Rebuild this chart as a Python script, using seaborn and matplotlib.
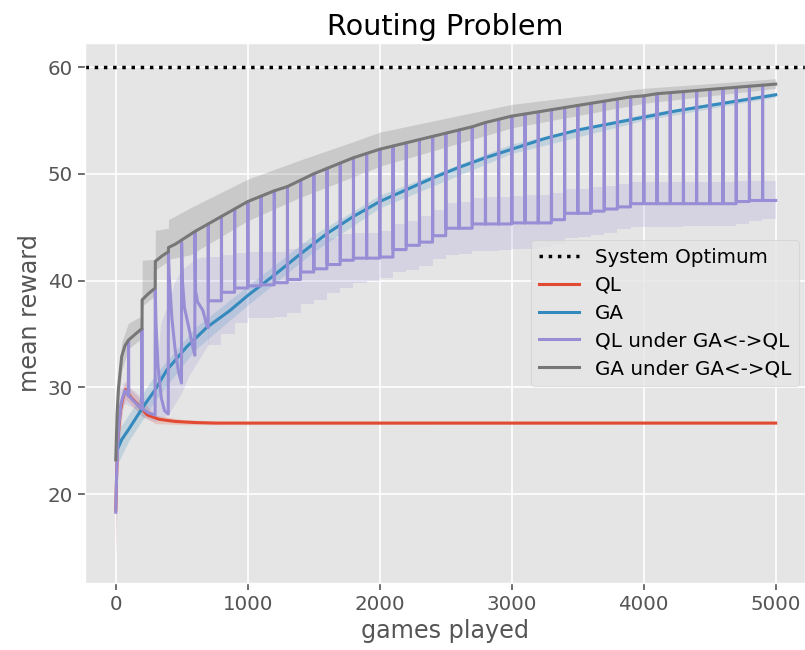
import matplotlib
matplotlib.use("Agg")
import matplotlib.pyplot as plt
import pandas as pd
import seaborn as sns

# ggplot look, as in the original figure
plt.style.use("ggplot")

# colors (ggplot cycle)
QL_COLOR = "#E24A33"
GA_COLOR = "#348ABD"
QLGA_COLOR = "#988ED5"
GAGA_COLOR = "#777777"

font_size = 14.3

# ---------------- data ----------------
OPTIMUM = 60

# QL
QL_X = [0, 5, 10, 20, 35, 50, 75, 90, 112, 150, 180, 240, 330, 450, 600, 750, 1000, 5000]
QL_Y = [18.5, 21.0, 23.5, 25.7, 27.8, 28.8, 29.8, 29.5, 29.1, 28.6, 28.2, 27.4, 27.0, 26.8, 26.7, 26.65, 26.65, 26.65]
QL_BAND_X = [0, 10, 20, 50, 75, 112, 200, 300, 500, 800, 5000]
QL_LO = [14.0, 20.0, 24.0, 27.8, 28.9, 28.4, 27.3, 26.6, 26.5, 26.5, 26.55]
QL_HI = [21.5, 25.5, 27.0, 29.8, 30.6, 29.8, 28.8, 27.4, 27.0, 26.8, 26.75]

# GA
GA_X = [20, 45, 100, 209, 300, 386, 538, 689, 866, 1000, 1200, 1400, 1600, 1800, 2000, 2200,
        2400, 2600, 2800, 3000, 3250, 3500, 3750, 4000, 4250, 4500, 4750, 5000]
GA_Y = [24.4, 25.1, 26.1, 28.2, 29.8, 31.6, 33.8, 35.6, 37.2, 38.6, 40.5, 42.5, 44.4, 46.0, 47.4, 48.5,
        49.6, 50.6, 51.5, 52.3, 53.3, 54.1, 54.7, 55.3, 55.9, 56.4, 56.9, 57.4]
GA_BAND_X = [20, 100, 300, 600, 1000, 1500, 2000, 3000, 4000, 5000]
GA_LO = [23.0, 25.0, 28.8, 33.5, 37.7, 42.7, 46.8, 51.9, 55.0, 57.2]
GA_HI = [26.0, 27.5, 31.2, 35.6, 39.5, 44.3, 48.0, 52.8, 55.6, 57.6]

# GA under GA<->QL
GAGA_X = [0, 10, 20, 45, 70, 95, 150, 199, 200, 250, 299, 300, 350, 399, 400, 450, 500, 600,
          700, 800, 900, 1000, 1100, 1200, 1300, 1400, 1500, 1600, 1700, 1800, 1900, 2000,
          2100, 2200, 2300, 2400, 2500, 2600, 2700, 2800, 2900, 3000, 3100, 3200, 3300, 3400,
          3500, 3600, 3700, 3800, 3900, 4000, 4100, 4200, 4300, 4400, 4500, 4600, 4700, 4800,
          4900, 5000]
GAGA_Y = [23.2, 27.5, 29.8, 32.9, 33.9, 34.4, 35.0, 35.5, 38.2, 38.8, 39.3, 41.8, 42.3, 42.7, 43.1, 43.4, 43.8, 44.6,
          45.3, 46.0, 46.7, 47.4, 47.9, 48.4, 48.8, 49.4, 50.0, 50.5, 51.0, 51.5, 51.9, 52.3,
          52.6, 52.9, 53.2, 53.5, 53.8, 54.1, 54.4, 54.8, 55.1, 55.4, 55.6, 55.8, 56.0, 56.2,
          56.4, 56.6, 56.8, 57.0, 57.2, 57.3, 57.5, 57.6, 57.7, 57.8, 57.9, 58.0, 58.1, 58.2,
          58.3, 58.4]
GAGA_BAND_X = [0, 20, 45, 95, 199, 200, 299, 300, 399, 400, 563, 1000, 1400, 1775, 2000, 3000, 4000, 5000]
GAGA_LO = [22.5, 28.5, 31.5, 33.6, 34.6, 37.6, 38.6, 41.0, 41.8, 42.0, 42.4, 45.6, 47.8, 49.6, 50.7, 54.3, 56.6, 58.0]
GAGA_HI = [24.0, 31.0, 34.2, 36.0, 36.7, 41.9, 42.0, 44.7, 44.9, 45.7, 46.8, 49.5, 51.3, 52.9, 53.9, 56.5, 58.0, 58.9]

# QL under GA<->QL, first 700 games
QLGA_EARLY_X = [0, 8, 20, 40, 70, 95, 97, 99, 130, 160, 197, 198, 200, 250, 298, 299, 305, 320, 345, 370,
                398, 399, 405, 425, 450, 475, 498, 499, 505, 520, 550, 580, 599, 600, 605, 620, 660, 690, 700]
QLGA_EARLY_Y = [18.3, 22.5, 26.0, 28.5, 29.7, 29.2, 34.3, 29.2, 28.8, 28.4, 28.0, 35.5, 28.0, 27.6, 27.4, 39.2, 36.0, 32.0, 29.0, 27.8,
                27.5, 42.6, 40.5, 36.5, 33.5, 31.5, 30.4, 43.6, 40.0, 37.5, 35.8, 34.0, 33.0, 44.5, 39.0, 38.0, 37.2, 35.8, 35.6]
QLGA_EARLY_BAND_X = [0, 10, 30, 60, 100, 150, 200, 250, 300, 340, 400, 450, 500, 550, 600, 650, 700]
QLGA_EARLY_LO = [14.5, 21.5, 26.5, 28.5, 28.3, 28.0, 27.2, 27.0, 26.8, 27.0, 27.5, 28.5, 29.5, 31.0, 32.0, 33.0, 34.0]
QLGA_EARLY_HI = [21.5, 26.0, 29.8, 30.5, 30.0, 29.6, 29.0, 29.0, 30.0, 36.0, 38.0, 40.0, 41.0, 41.5, 42.0, 42.2, 42.2]

# switches every 100 games afterwards: level reached after each switch
SWITCH_GAMES = [700, 800, 900, 1000, 1100, 1200, 1300, 1400, 1500, 1600,
                1700, 1800, 1900, 2000, 2100, 2200, 2300, 2400, 2500, 2600,
                2700, 2800, 2900, 3000, 3100, 3200, 3300, 3400, 3500, 3600,
                3700, 3800, 3900, 4000, 4100, 4200, 4300, 4400, 4500, 4600,
                4700, 4800, 4900]
QLGA_LEVEL = [38.1, 38.9, 39.3, 39.5, 39.6, 39.8, 40.1, 40.8, 41.1, 41.5,
              41.9, 42.1, 42.1, 42.2, 42.9, 43.3, 43.6, 44.2, 44.9, 44.9,
              45.3, 45.3, 45.3, 45.4, 45.4, 45.4, 45.7, 46.3, 46.3, 46.5,
              46.7, 46.9, 47.2, 47.2, 47.2, 47.2, 47.2, 47.2, 47.2, 47.2,
              47.4, 47.5, 47.5]
QLGA_LO = [34.0, 35.0, 36.0, 36.5, 36.5, 36.6, 37.0, 37.8, 38.2, 38.8,
           39.3, 39.8, 40.0, 40.2, 40.8, 41.0, 41.4, 42.0, 42.4, 42.5,
           42.8, 42.8, 42.9, 43.0, 43.0, 43.1, 43.4, 44.0, 44.1, 44.3,
           44.5, 44.8, 45.0, 45.0, 45.0, 45.0, 45.1, 45.1, 45.1, 45.1,
           45.3, 45.6, 45.8]
QLGA_HI = [42.2, 42.4, 42.6, 42.7, 42.7, 42.7, 43.0, 43.5, 43.8, 44.0,
           44.4, 44.5, 44.5, 44.6, 45.3, 45.6, 46.0, 46.6, 47.3, 47.4,
           47.7, 47.8, 47.8, 47.9, 48.0, 48.0, 48.2, 48.6, 48.6, 48.8,
           48.9, 49.0, 49.2, 49.2, 49.2, 49.2, 49.2, 49.2, 49.2, 49.2,
           49.3, 49.3, 49.3]
LAST_GAME = 5000

# ---------------- build purple sawtooth ----------------
top_of = dict(zip(GAGA_X, GAGA_Y))
qlga_x = list(QLGA_EARLY_X)
qlga_y = list(QLGA_EARLY_Y)
for i, s in enumerate(SWITCH_GAMES):
    end = SWITCH_GAMES[i + 1] if i + 1 < len(SWITCH_GAMES) else LAST_GAME
    qlga_x += [s + 1, s + 2, end]
    qlga_y += [top_of[s], QLGA_LEVEL[i], QLGA_LEVEL[i]]

series = [
    ("QL", QL_COLOR, QL_X, QL_Y),
    ("GA", GA_COLOR, GA_X, GA_Y),
    ("QL under GA<->QL", QLGA_COLOR, qlga_x, qlga_y),
    ("GA under GA<->QL", GAGA_COLOR, GAGA_X, GAGA_Y),
]

plt.rcParams.update({
    'font.size': font_size,
    'axes.titlesize': 20.6,
    'axes.labelsize': 17.2,
    'xtick.labelsize': font_size,
    'ytick.labelsize': font_size,
    'legend.fontsize': font_size,
})

fig = plt.figure(figsize=(8.05, 6.5), dpi=100)
ax = fig.add_axes([85 / 805, 1 - 583 / 650, 720 / 805, 540 / 650])
ax.grid(True, color="white", linewidth=1.2)

ax.axhline(OPTIMUM, color="black", linestyle=":", linewidth=2.5, label="System Optimum")

for name, color, xs, ys in series:
    if name == "QL":
        ax.fill_between(QL_BAND_X, QL_LO, QL_HI, color=color, alpha=0.2, linewidth=0)
    elif name == "GA":
        ax.fill_between(GA_BAND_X, GA_LO, GA_HI, color=color, alpha=0.2, linewidth=0)
    elif name.startswith("QL under"):
        ax.fill_between(QLGA_EARLY_BAND_X, QLGA_EARLY_LO, QLGA_EARLY_HI, color=color, alpha=0.2, linewidth=0)
        ax.fill_between(SWITCH_GAMES + [LAST_GAME], QLGA_LO + [QLGA_LO[-1]], QLGA_HI + [QLGA_HI[-1]],
                        step="post", color=color, alpha=0.2, linewidth=0)
    else:
        ax.fill_between(GAGA_BAND_X, GAGA_LO, GAGA_HI, color=color, alpha=0.25, linewidth=0)
    df = pd.DataFrame({"game": xs, "reward": ys})
    sns.lineplot(data=df, x="game", y="reward", color=color, linewidth=2.2, estimator=None,
                 sort=False, ax=ax, label=name)

ax.set_xlim(-233, 5222)
ax.set_ylim(11.67, 62.25)
ax.set_title("Routing Problem", color="black")
ax.set_xlabel("games played", color="#555555")
ax.set_ylabel("mean reward", color="#555555")
ax.tick_params(colors="#555555", length=5, width=1.2)

ax.legend(loc="center right", labelspacing=0.45, borderaxespad=0.3)

fig.savefig("out.png", dpi=100)
